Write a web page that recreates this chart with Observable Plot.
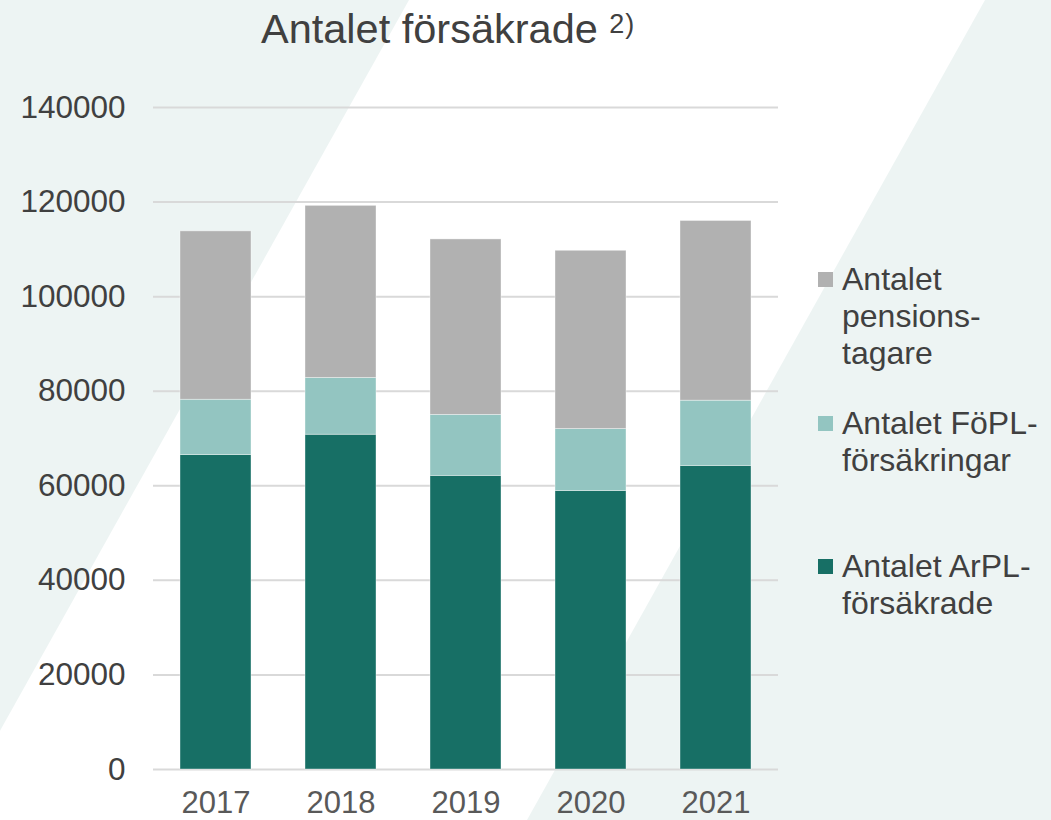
<!DOCTYPE html>
<html>
<head>
<meta charset="utf-8">
<script src="https://cdn.jsdelivr.net/npm/d3@7"></script>
<script src="https://cdn.jsdelivr.net/npm/@observablehq/plot@0.6"></script>
<style>
  html, body { margin: 0; padding: 0; }
  body { width: 1051px; height: 820px; position: relative; overflow: hidden; background: #EDF4F3; font-family: "Liberation Sans", Arial, sans-serif; }
  #stripe { position: absolute; left: 0; top: 0; width: 1051px; height: 820px; background: #ffffff;
            clip-path: polygon(409px 0, 985px 0, 527px 820px, -50px 820px); }
  #title { position: absolute; left: 261px; top: 5px; font-size: 41.5px; line-height: 1.15; color: #404040; white-space: nowrap; }
  #title sup { font-size: 27px; vertical-align: 10px; line-height: 0; letter-spacing: 1px; }
  #chart { position: absolute; left: 0; top: 62px; }
  .leg { position: absolute; left: 818px; display: flex; align-items: flex-start; font-size: 32px; line-height: 37px; color: #404040; }
  .leg .sw { width: 15px; height: 15px; margin-top: 11px; margin-right: 9px; flex: none; }
</style>
</head>
<body>
<div id="stripe"></div>
<div id="title">Antalet försäkrade <sup>2)</sup></div>
<div id="chart"></div>
<div id="legend"></div>
<script>
// ---- data ----
const years = ["2017", "2018", "2019", "2020", "2021"];
const arpl = [66500, 70800, 62100, 58900, 64200];      // Antalet ArPL-försäkrade
const fopl = [11700, 12000, 12900, 13100, 13800];      // Antalet FöPL-försäkringar
const pension = [35600, 36400, 37100, 37700, 38000];   // Antalet pensionstagare
const seriesNames = ["Antalet ArPL-försäkrade", "Antalet FöPL-försäkringar", "Antalet pensionstagare"];
const seriesColors = ["#176F65", "#93C5C1", "#B1B1B1"];
const yTicks = [0, 20000, 40000, 60000, 80000, 100000, 120000, 140000];
const legendLines = [
  ["Antalet", "pensions-", "tagare"],
  ["Antalet FöPL-", "försäkringar"],
  ["Antalet ArPL-", "försäkrade"]
];
const legendColors = ["#B1B1B1", "#93C5C1", "#176F65"];

// ---- table ----
const seriesValues = [arpl, fopl, pension];
const rows = [];
seriesValues.forEach((vals, si) => {
  years.forEach((yr, i) => rows.push({year: yr, series: seriesNames[si], value: vals[i]}));
});

const plot = Plot.plot({
  width: 1051,
  height: 758,
  marginLeft: 153,
  marginRight: 273,
  marginTop: 45,
  marginBottom: 51,
  style: {background: "transparent", fontFamily: "'Liberation Sans', Arial, sans-serif", fontSize: "31.5px"},
  x: {domain: years, paddingInner: 0.43, paddingOuter: 0.215, label: null},
  y: {domain: [0, 140000], label: null},
  color: {domain: seriesNames, range: seriesColors},
  marks: [
    Plot.gridY(yTicks, {stroke: "#D9D9D9", strokeOpacity: 1, strokeWidth: 2}),
    Plot.barY(rows, {x: "year", y: "value", fill: "series", order: seriesNames, stroke: "#ffffff", strokeOpacity: 0.5, strokeWidth: 0.75}),
    Plot.axisY(yTicks, {tickSize: 0, tickPadding: 28, tickFormat: d => String(d), fontSize: 31.5, fill: "#404040", label: null}),
    Plot.axisX({tickSize: 0, tickPadding: 21, fontSize: 31, fill: "#595959", label: null})
  ]
});
document.getElementById("chart").appendChild(plot);

// ---- legend ----
const legendTops = [261, 405, 548];
const legend = document.getElementById("legend");
legendLines.forEach((lines, i) => {
  const item = document.createElement("div");
  item.className = "leg";
  item.style.top = legendTops[i] + "px";
  const sw = document.createElement("div");
  sw.className = "sw";
  sw.style.background = legendColors[i];
  const txt = document.createElement("div");
  lines.forEach((ln, j) => {
    if (j) txt.appendChild(document.createElement("br"));
    txt.appendChild(document.createTextNode(ln));
  });
  item.appendChild(sw);
  item.appendChild(txt);
  legend.appendChild(item);
});
</script>
</body>
</html>
